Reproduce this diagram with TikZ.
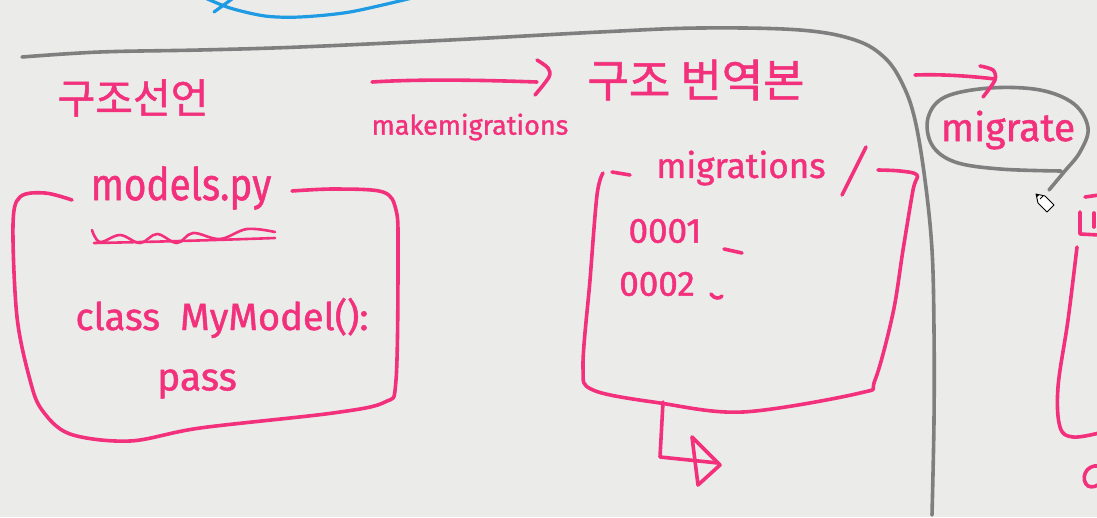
\documentclass[tikz,border=0pt]{standalone}
\usepackage{fontspec}
\setmainfont{Fira Sans}[FakeBold=1.2]
\newfontfamily\krfont{Noto Sans CJK KR}[FakeBold=1.2]
\definecolor{bgc}{HTML}{EBEBEA}
\definecolor{pen}{HTML}{F2307C}
\definecolor{pengray}{HTML}{7F7F7F}
\definecolor{penblue}{HTML}{1E9BE3}
\begin{document}
\begin{tikzpicture}[x=1pt,y=-1pt,
  ink/.style={draw=pen, line width=3.6pt, line cap=round, line join=round},
  gink/.style={draw=pengray, line width=3.6pt, line cap=round, line join=round},
  bink/.style={draw=penblue, line width=3.2pt, line cap=round, line join=round},
  txt/.style={text=pen, inner sep=0pt, anchor=center}]
\fill[bgc] (0,0) rectangle (1097,517);
\useasboundingbox (0,0) rectangle (1097,517);
\begin{scope}
\clip (0,0) rectangle (1097,517);
% blue curve at top
\draw[bink] plot[smooth] coordinates {(203,-3) (230,8) (265,16) (300,17) (350,12) (412,-2)};
\draw[bink] (232,-1) -- (214,12);
% big gray outline
\draw[gink] plot[smooth, tension=0.6] coordinates {(22,57) (100,52) (200,50) (300,47) (450,40) (600,32) (700,28) (800,30) (855,40) (885,58) (903,85) (915,120) (925,180) (932,250) (934,330) (934,420) (932,515)};
% gray ellipse around migrate
\draw[gink] plot[smooth, tension=0.6] coordinates {(1061,171) (1000,169) (955,162) (932,145) (928,118) (945,97) (990,88) (1040,90) (1074,104) (1088,128) (1080,152) (1064,172) (1049,190)};
% pencil cursor
\draw[black, line width=0.9pt, line join=round, fill=white] (1036,194) -- (1045,196) -- (1054,205) -- (1047,212) -- (1038,203) -- cycle;
\draw[black, line width=0.9pt] (1040,199) -- (1043,196);
\fill[black] (1036,194) -- (1039,195) -- (1037,197) -- cycle;
% makemigrations arrow
\coordinate (mmA) at (372,82);
\coordinate (mmB) at (537,82);
\draw[ink] (mmA) .. controls (420,79) and (480,80) .. (mmB);
\draw[ink] plot[smooth] coordinates {(537,60) (548,68) (549,77) (535,95)};
% migrate arrow
\coordinate (mgA) at (915,75);
\coordinate (mgB) at (995,79);
\draw[ink] (mgA) .. controls (940,74) and (970,76) .. (mgB);
\draw[ink] plot[smooth] coordinates {(980,66) (993,70) (995,80) (983,97)};
% headings
\node[txt, font=\krfont\fontsize{41}{41}\selectfont] (decl) at (133,98) {구조선언};
\node[txt, font=\krfont\fontsize{45}{45}\selectfont] (trans) at (696,80) {구조 번역본};
\node[txt, font=\fontsize{27}{27}\selectfont] (mklbl) at (470,127) {makemigrations};
\node[txt, font=\fontsize{39}{39}\selectfont] (mglbl) at (1008,130) {migrate};
% models.py box
\draw[ink] plot[smooth, tension=0.55] coordinates {(72,200) (45,193) (20,197) (13,225) (17,317) (30,380) (42,410) (70,434) (130,441) (200,428) (333,413) (385,402) (396,380) (398,250) (396,210) (383,192) (335,189) (292,191)};
\node[txt, font=\fontsize{45}{45}\selectfont, xscale=0.86] (models) at (181,188) {models.py};
\draw[ink, line width=2.6pt] plot[smooth, tension=0.6] coordinates {(92,230) (100,242) (120,235) (140,243) (157,234) (177,243) (193,233) (220,239) (247,229) (275,232)};
\draw[ink, line width=2.6pt] (94,243) .. controls (150,242) and (220,240) .. (275,238);
\node[txt, font=\fontsize{38}{38}\selectfont] (cls) at (222,318) {class\ \ MyModel():};
\node[txt, font=\fontsize{39}{39}\selectfont] (pass) at (197,384) {pass};
% migrations box
\draw[ink] (612,172) -- (630,175);
\draw[ink] plot[smooth, tension=0.55] coordinates {(603,173) (597,195) (590,280) (583,367) (593,390) (660,403) (743,412) (860,393) (875,380) (893,313) (903,250) (913,190) (917,175) (900,171) (878,170)};
\node[txt, font=\fontsize{35}{35}\selectfont] (migs) at (741,168) {migrations};
\draw[ink] (866,147) -- (842,195);
\node[txt, font=\fontsize{35}{35}\selectfont] (m1) at (665,231) {0001};
\draw[ink] (724,249) -- (742,253);
\node[txt, font=\fontsize{35}{35}\selectfont] (m2) at (657,284) {0002};
\draw[ink] (711,294) .. controls (714,299) and (720,299) .. (722,296);
% output arrow
\coordinate (oA) at (663,402);
\coordinate (oK) at (660,457);
\coordinate (oB) at (718,463);
\draw[ink] (oA) -- (oK) -- (oB);
\draw[ink] (692,437) -- (720,465) -- (698,485) -- cycle;
% cut-off box at right edge
\draw[ink] (1085,197) -- (1099,195);
\draw[ink] (1080,212) -- (1080,234) -- (1099,235);
\draw[ink] (1094,213) -- (1094,227);
\draw[ink] plot[smooth, tension=0.6] coordinates {(1077,247) (1068,320) (1058,387) (1060,427) (1073,437) (1099,433)};
\draw[ink] (1099,466) .. controls (1085,464) and (1080,480) .. (1088,486) .. controls (1092,488) and (1097,486) .. (1099,484);
\end{scope}
\end{tikzpicture}
\end{document}
